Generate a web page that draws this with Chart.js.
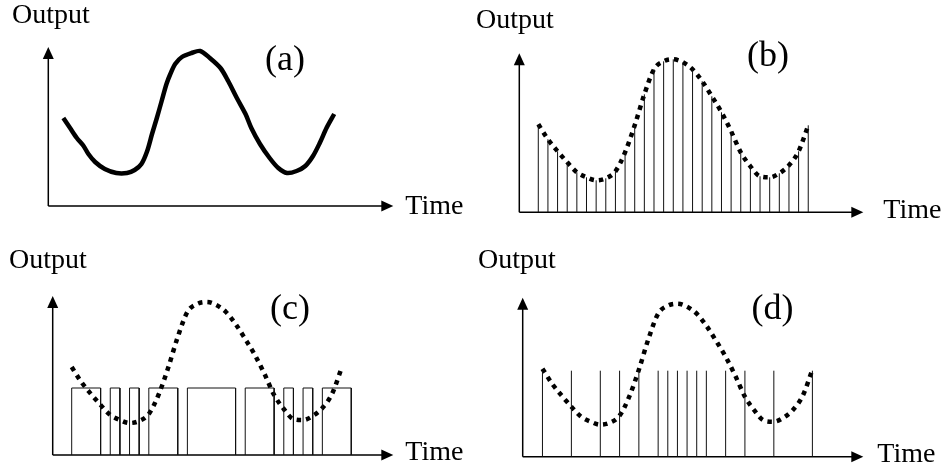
<!DOCTYPE html>
<html>
<head>
<meta charset="utf-8">
<script src="https://cdn.jsdelivr.net/npm/chart.js@4.4.1/dist/chart.umd.min.js"></script>
<style>
  html, body { margin: 0; padding: 0; background: #fff; }
  #figure { position: relative; width: 945px; height: 470px; overflow: hidden; }
  #figure canvas { position: absolute; }
</style>
</head>
<body>
<div id="figure">
  <canvas id="panelA" width="470" height="235" style="left:0px;top:0px"></canvas>
  <canvas id="panelB" width="475" height="235" style="left:470px;top:0px"></canvas>
  <canvas id="panelC" width="470" height="235" style="left:0px;top:235px"></canvas>
  <canvas id="panelD" width="475" height="235" style="left:470px;top:235px"></canvas>
</div>
<script>
// Sampling instants (time units) and the sampled signal, used by (b), (c), (d)
const sampleTimes = [0, 1, 2, 3, 4, 5, 6, 7, 8, 9, 10, 11, 12, 13, 14, 15, 16, 17, 18, 19, 20, 21, 22, 23, 24, 25, 26, 27, 28];
const signal = [88, 73, 61, 50, 40, 35, 32, 34, 41, 60, 87, 118, 143, 151, 153, 150, 143, 131, 116, 100, 81, 60, 46, 36, 35, 39, 47, 61, 87];

// Hand drawn continuous output of panel (a)
const aTime = [0, 0.7, 1.4, 2.1, 2.6, 3.3, 4.3, 5.5, 6.6, 7.4, 8.1, 8.7, 9.2, 9.7, 10.2, 10.7, 11.1, 11.6, 12.3, 13.3,
               14.2, 15.2, 16.3, 17.1, 18.0, 18.9, 19.5, 20.4, 21.4, 22.3, 23.2, 24.2, 25.1, 25.9, 26.6, 27.3, 28.1];
const aOutput = [88, 78, 68, 60, 52, 44, 37, 33, 33, 36, 42, 55, 72, 88, 105, 122, 132, 142, 149, 153,
                 155, 148, 138, 125, 108, 92, 78, 62, 48, 38, 33, 35, 40, 50, 63, 78, 92];

// Panel (c): pulse width modulation
const pwmStart = [0, 4, 6, 8, 12, 18, 22, 24, 26];
const pwmEnd = [3, 5, 7, 11, 17, 21, 23, 25, 29];
const pwmHeight = 67;

// Panel (d): pulse frequency modulation
const pfmTimes = [0, 3, 6, 8, 10, 12, 13, 14, 15, 16, 17, 19, 21, 24, 28];
const pfmHeight = 86;

const yTop = 159;

function curvePoints(times, values) {
    return times.map((t, i) => ({ x: t, y: values[i] }));
}

function stickPoints(times, heights) {
    return times.flatMap((t, i) => [{ x: t, y: 0 }, { x: t, y: heights[i] }, { x: t, y: null }]);
}

function pulsePoints(starts, ends, h) {
    return starts.flatMap((s, i) => [
        { x: s, y: 0 }, { x: s, y: h }, { x: ends[i], y: h }, { x: ends[i], y: 0 }, { x: s, y: null }
    ]);
}

const dottedCurve = () => ({
    data: curvePoints(sampleTimes, signal),
    showLine: true,
    borderColor: '#000',
    borderWidth: 4.5,
    borderDash: [4.5, 5],
    borderCapStyle: 'butt',
    cubicInterpolationMode: 'monotone',
    pointRadius: 0,
    clip: false
});

const thinLines = (data) => ({
    data: data,
    showLine: true,
    borderColor: '#111',
    borderWidth: 1,
    tension: 0,
    pointRadius: 0,
    clip: false
});

// axes with arrow heads plus the panel texts
const figurePlugin = {
    id: 'figure',
    beforeDatasetsDraw(chart, args, opts) {
        const ctx = chart.ctx;
        const xs = chart.scales.x, ys = chart.scales.y;
        const x0 = xs.getPixelForValue(xs.min), x1 = xs.getPixelForValue(xs.max);
        const y0 = ys.getPixelForValue(0), y1 = ys.getPixelForValue(ys.max);
        ctx.save();
        ctx.strokeStyle = '#000';
        ctx.fillStyle = '#000';
        ctx.lineWidth = 1.5;
        ctx.beginPath();
        ctx.moveTo(x0, y0); ctx.lineTo(x1 - 10, y0);
        ctx.moveTo(x0, y0); ctx.lineTo(x0, y1 + 10);
        ctx.stroke();
        ctx.beginPath();
        ctx.moveTo(x1, y0); ctx.lineTo(x1 - 12, y0 - 5.5); ctx.lineTo(x1 - 12, y0 + 5.5);
        ctx.closePath(); ctx.fill();
        ctx.beginPath();
        ctx.moveTo(x0, y1); ctx.lineTo(x0 - 5.5, y1 + 12); ctx.lineTo(x0 + 5.5, y1 + 12);
        ctx.closePath(); ctx.fill();
        ctx.restore();
    },
    afterDraw(chart, args, opts) {
        const ctx = chart.ctx;
        const xs = chart.scales.x, ys = chart.scales.y;
        const x1 = xs.getPixelForValue(xs.max), y0 = ys.getPixelForValue(0);
        ctx.save();
        ctx.fillStyle = '#000';
        ctx.font = '28px "Liberation Serif", "Times New Roman", serif';
        ctx.textBaseline = 'alphabetic';
        ctx.textAlign = 'left';
        ctx.fillText('Output', opts.outputAt[0], opts.outputAt[1]);
        ctx.fillText('Time', x1 + opts.timeOffset[0], y0 + opts.timeOffset[1]);
        ctx.font = '36px "Liberation Serif", "Times New Roman", serif';
        ctx.textAlign = 'center';
        ctx.textBaseline = 'middle';
        ctx.fillText(opts.label, opts.labelAt[0], opts.labelAt[1]);
        ctx.restore();
    }
};

const panels = [
    {
        id: 'panelA', label: '(a)', xMin: -1.56, xMax: 34.23,
        padding: { left: 48.3, right: 76.7, top: 47, bottom: 29 },
        outputAt: [12, 23], timeOffset: [12, 8], labelAt: [285, 61],
        datasets: [{
            data: curvePoints(aTime, aOutput),
            showLine: true,
            borderColor: '#000',
            borderWidth: 4.5,
            tension: 0.3,
            borderJoinStyle: 'round',
            pointRadius: 0,
            clip: false
        }]
    },
    {
        id: 'panelB', label: '(b)', xMin: -1.97, xMax: 33.71,
        padding: { left: 49.3, right: 81.7, top: 53.3, bottom: 22.7 },
        outputAt: [6, 28], timeOffset: [20, 6], labelAt: [298, 57],
        datasets: [thinLines(stickPoints(sampleTimes, signal)), dottedCurve()]
    },
    {
        id: 'panelC', label: '(c)', xMin: -1.97, xMax: 33.36,
        padding: { left: 52.7, right: 76.7, top: 61, bottom: 15 },
        outputAt: [9, 33], timeOffset: [12, 5], labelAt: [290, 75],
        datasets: [thinLines(pulsePoints(pwmStart, pwmEnd, pwmHeight)), dottedCurve()]
    },
    {
        id: 'panelD', label: '(d)', xMin: -2.05, xMax: 33.28,
        padding: { left: 52.7, right: 81.7, top: 62.7, bottom: 13.3 },
        outputAt: [8, 33], timeOffset: [14, 5], labelAt: [302.5, 75],
        datasets: [thinLines(stickPoints(pfmTimes, pfmTimes.map(() => pfmHeight))), dottedCurve()]
    }
];

panels.forEach(p => {
    new Chart(document.getElementById(p.id), {
        type: 'scatter',
        data: { datasets: p.datasets },
        options: {
            responsive: false,
            animation: false,
            events: [],
            layout: { padding: p.padding },
            scales: {
                x: { type: 'linear', min: p.xMin, max: p.xMax, display: false },
                y: { type: 'linear', min: 0, max: yTop, display: false }
            },
            plugins: {
                legend: { display: false },
                tooltip: { enabled: false },
                figure: { label: p.label, outputAt: p.outputAt, timeOffset: p.timeOffset, labelAt: p.labelAt }
            }
        },
        plugins: [figurePlugin]
    });
});
</script>
</body>
</html>
